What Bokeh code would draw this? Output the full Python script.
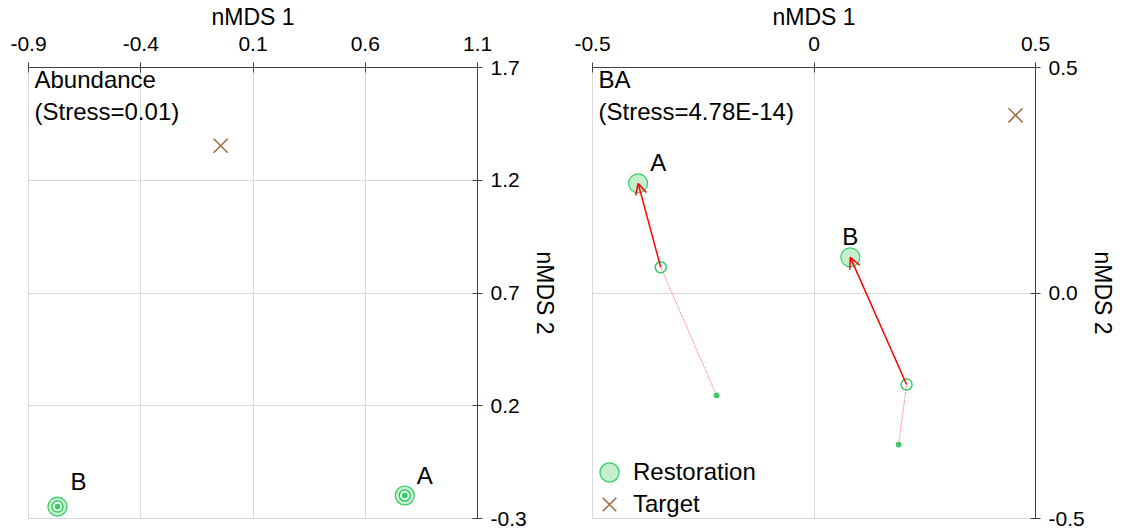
from bokeh.plotting import figure
from bokeh.models import (Range1d, FixedTicker, ColumnDataSource, Arrow, OpenHead,
                          Label, Legend, LegendItem)
from bokeh.layouts import row
from bokeh.embed import file_html
from bokeh.resources import INLINE
from bokeh.core.properties import value

FONT = "Liberation Sans"

# ---------------- data ----------------
sites = ["A", "B"]

# Abundance panel (Stress=0.01): three time points coincide
ab_x1 = [0.776, -0.771]
ab_y1 = [-0.198, -0.247]
ab_x2 = [0.776, -0.771]
ab_y2 = [-0.198, -0.247]
ab_x3 = [0.776, -0.771]
ab_y3 = [-0.198, -0.247]
ab_target_x = [-0.044]
ab_target_y = [1.353]
ab_xticks = [-0.9, -0.4, 0.1, 0.6, 1.1]
ab_xlabels = ["-0.9", "-0.4", "0.1", "0.6", "1.1"]
ab_yticks = [-0.3, 0.2, 0.7, 1.2, 1.7]
ab_ylabels = ["-0.3", "0.2", "0.7", "1.2", "1.7"]

# BA panel (Stress=4.78E-14)
ba_x1 = [-0.220, 0.191]
ba_y1 = [-0.227, -0.336]
ba_x2 = [-0.346, 0.209]
ba_y2 = [0.057, -0.203]
ba_x3 = [-0.397, 0.082]
ba_y3 = [0.243, 0.079]
ba_target_x = [0.455]
ba_target_y = [0.394]
ba_xticks = [-0.5, 0.0, 0.5]
ba_xlabels = ["-0.5", "0", "0.5"]
ba_yticks = [-0.5, 0.0, 0.5]
ba_ylabels = ["-0.5", "0.0", "0.5"]

# ---------------- styles ----------------
GREEN = "#33cc66"
LIGHT_GREEN = "#c6efce"
BROWN = "#9e6b40"
RED = "#ff0000"
AXIS = "#404040"
GRID = "#d9d9d9"


def legend_one(label, renderer, y):
    return Legend(items=[LegendItem(label=label, renderers=[renderer])],
                  location=(-7, y), glyph_width=48, glyph_height=48,
                  padding=0, margin=0, label_standoff=0,
                  label_text_font=FONT, label_text_font_size="24px",
                  label_text_color="black",
                  background_fill_alpha=0, border_line_alpha=0)


def panel(title, x1, y1, x2, y2, x3, y3, tx, ty, xticks, xlabels, yticks, ylabels,
          width, border_left, border_right, label_dx, label_dy, paths, legend):
    p = figure(width=width, height=528, output_backend="svg", toolbar_location=None,
               x_axis_location="above", y_axis_location="right",
               x_range=Range1d(xticks[0], xticks[-1]), y_range=Range1d(yticks[0], yticks[-1]),
               min_border_left=border_left, min_border_right=border_right,
               min_border_top=67, min_border_bottom=10)
    p.outline_line_color = GRID
    p.background_fill_color = "white"
    for ax, ticks, labels, name, standoff, lstandoff in (
            (p.xaxis[0], xticks, xlabels, "nMDS 1", 12, 4),
            (p.yaxis[0], yticks, ylabels, "nMDS 2", 8, 2)):
        ax.ticker = FixedTicker(ticks=ticks)
        ax.major_label_overrides = dict(zip(ticks, labels))
        ax.axis_label = name
        ax.axis_line_color = AXIS
        ax.major_tick_line_color = AXIS
        ax.minor_tick_line_color = None
        ax.major_tick_in = 5
        ax.major_tick_out = 5
        ax.major_label_text_font = FONT
        ax.major_label_text_font_size = "21px"
        ax.major_label_text_color = "black"
        ax.major_label_standoff = standoff
        ax.axis_label_text_font = FONT
        ax.axis_label_text_font_size = "23px"
        ax.axis_label_text_font_style = "normal"
        ax.axis_label_text_color = "black"
        ax.axis_label_standoff = lstandoff
    p.xgrid.ticker = FixedTicker(ticks=xticks)
    p.ygrid.ticker = FixedTicker(ticks=yticks)
    p.grid.grid_line_color = GRID

    src = ColumnDataSource(dict(site=sites, x1=x1, y1=y1, x2=x2, y2=y2, x3=x3, y3=y3,
                                dx=label_dx, dy=label_dy))
    tsrc = ColumnDataSource(dict(x=tx, y=ty))

    big = p.scatter("x3", "y3", source=src, size=19, fill_color=LIGHT_GREEN,
                    line_color=GREEN, line_width=1.2)
    p.scatter("x2", "y2", source=src, size=11, fill_color="white", line_color=GREEN, line_width=1.5)
    p.scatter("x1", "y1", source=src, size=5, fill_color=GREEN, line_color=GREEN, line_width=1)
    if paths:
        p.segment("x1", "y1", "x2", "y2", source=src, line_color="#ff6666",
                  line_width=1, line_dash="1 1")
        p.add_layout(Arrow(end=OpenHead(size=11, line_color=RED, line_width=1.5),
                           x_start="x2", y_start="y2", x_end="x3", y_end="y3",
                           source=src, line_color=RED, line_width=1.5))
    tgt = p.scatter("x", "y", source=tsrc, marker="x", size=20, line_color=BROWN, line_width=1.5)

    p.text("x3", "y3", text="site", source=src, x_offset="dx", y_offset="dy",
           text_font=value(FONT), text_font_size="24px", text_align="center",
           text_baseline="middle", text_color="black")

    p.add_layout(Label(x=xticks[0], y=yticks[-1], x_offset=6, y_offset=2, text=title,
                       text_font=FONT, text_font_size="24px", text_baseline="top",
                       text_line_height=1.2, text_color="black"))
    if legend:
        p.add_layout(legend_one("Restoration", big, 22))
        p.add_layout(legend_one("Target", tgt, -10))
    return p


p1 = panel("Abundance\n(Stress=0.01)", ab_x1, ab_y1, ab_x2, ab_y2, ab_x3, ab_y3,
           ab_target_x, ab_target_y, ab_xticks, ab_xlabels, ab_yticks, ab_ylabels,
           560, 28, 81, [20, 21], [-20, -25], False, False)
p2 = panel("BA\n(Stress=4.78E-14)", ba_x1, ba_y1, ba_x2, ba_y2, ba_x3, ba_y3,
           ba_target_x, ba_target_y, ba_xticks, ba_xlabels, ba_yticks, ba_ylabels,
           558, 32, 79, [20, 0], [-21, -21], True, True)

layout = row(p1, p2)
open("out.html", "w").write(file_html(layout, INLINE))
